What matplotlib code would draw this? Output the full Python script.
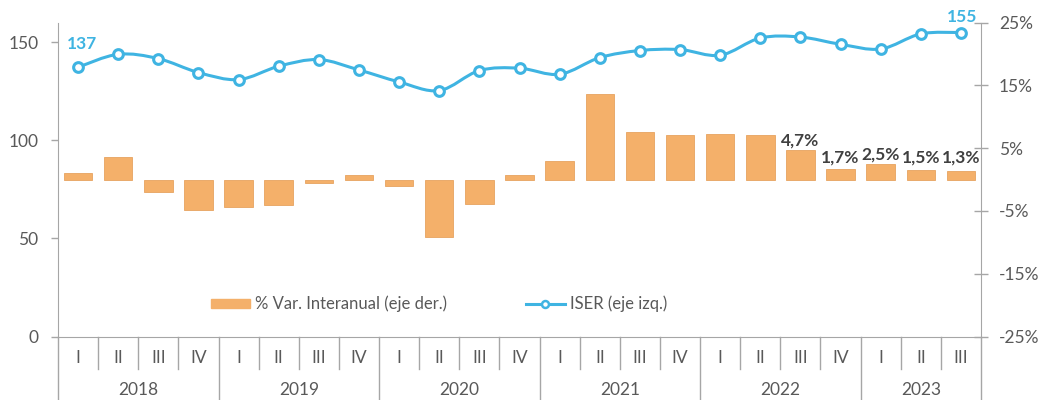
import numpy as np
import matplotlib.pyplot as plt
from matplotlib.path import Path
from matplotlib.patches import PathPatch, Patch
from matplotlib.lines import Line2D
import matplotlib.transforms as mtransforms

plt.rcParams['font.family'] = ['Lato', 'DejaVu Sans']

years = ['2018', '2019', '2020', '2021', '2022', '2023']
quarters = ['I', 'II', 'III', 'IV'] * 5 + ['I', 'II', 'III']
iser = [137.3, 143.9, 141.7, 134.6, 131.0, 137.8, 141.2, 135.9, 129.8, 125.4, 135.6, 136.8,
        133.7, 142.2, 145.8, 146.3, 143.4, 152.2, 152.7, 149.0, 146.6, 154.3, 155.0]
var_ia = [1.0, 3.6, -2.0, -4.9, -4.3, -4.1, -0.6, 0.75, -1.0, -9.1, -3.9, 0.75,
          3.0, 13.6, 7.6, 7.1, 7.3, 7.1, 4.7, 1.7, 2.5, 1.5, 1.3]
bar_labels = {18: '4,7%', 19: '1,7%', 20: '2,5%', 21: '1,5%', 22: '1,3%'}

blue = '#3fb4e2'
orange = '#f4b06a'
axis_gray = '#a6a6a6'
text_gray = '#595959'

fig = plt.figure(figsize=(10.46, 4.0), dpi=100)
ax = fig.add_axes([58 / 1046, 1 - 336.5 / 400, (981 - 58) / 1046, (336.5 - 22.7) / 400])
ax2 = ax.twinx()
ax.set_zorder(ax2.get_zorder() + 1)
ax.patch.set_visible(False)

x = np.arange(len(iser))

# bars on right axis
ax2.bar(x, var_ia, width=0.71, color=orange, edgecolor='#e6a360', linewidth=0.6)
ax2.set_ylim(-25, 25)
ax2.set_yticks(np.arange(-25, 26, 10))
ax2.set_yticklabels([f'{v}%' for v in range(-25, 26, 10)])
for i, lab in bar_labels.items():
    ax2.text(i, max(var_ia[i], 2.0) + 1.5, lab, ha='center', va='center',
             fontsize=12.5, fontweight='bold', color='#404040')

# smoothed line on left axis (catmull-rom as bezier)
pts = np.column_stack([x, iser])
verts = [pts[0]]
codes = [Path.MOVETO]
n = len(pts)
for i in range(n - 1):
    p0 = pts[max(i - 1, 0)]
    p1 = pts[i]
    p2 = pts[i + 1]
    p3 = pts[min(i + 2, n - 1)]
    c1 = p1 + (p2 - p0) / 6
    c2 = p2 - (p3 - p1) / 6
    verts += [c1, c2, p2]
    codes += [Path.CURVE4] * 3
ax.add_patch(PathPatch(Path(verts, codes), fill=False, edgecolor=blue, linewidth=2.2,
                       capstyle='round', joinstyle='round'))
ax.plot(x, iser, linestyle='none', marker='o', markersize=7, markerfacecolor='white',
        markeredgecolor=blue, markeredgewidth=2.2)
ax.annotate(f'{iser[0]:.0f}', (x[0], iser[0]), xytext=(3, 17), textcoords='offset points',
            ha='center', va='center', color=blue, fontsize=12.5, fontweight='bold')
ax.annotate(f'{iser[-1]:.0f}', (x[-1], iser[-1]), xytext=(1, 11), textcoords='offset points',
            ha='center', va='center', color=blue, fontsize=12.5, fontweight='bold')

ax.set_ylim(0, 160)
ax.set_yticks([0, 50, 100, 150])
ax.set_xlim(-0.5, len(iser) - 0.5)
ax.set_xticks(x)
ax.set_xticklabels([])
ax.tick_params(axis='x', length=0)
ax.tick_params(axis='y', direction='out', length=5, width=1, color=axis_gray,
               labelsize=12.5, labelcolor=text_gray, pad=9)
ax2.tick_params(axis='y', direction='inout', length=10, width=1, color=axis_gray,
                labelsize=12.5, labelcolor=text_gray, pad=8)

for a in (ax, ax2):
    a.spines['top'].set_visible(False)
    for s in ('left', 'right', 'bottom'):
        a.spines[s].set_color(axis_gray)
ax.spines['right'].set_visible(False)
ax2.spines['left'].set_visible(False)
ax2.spines['bottom'].set_visible(False)

# category axis: quarters, years and separators
trans = mtransforms.blended_transform_factory(ax.transData, ax.transAxes)
for i, q in enumerate(quarters):
    ax.text(i, -0.068, q, transform=trans, ha='center', va='center', fontsize=12.5, color=text_gray)
for k in range(len(iser) + 1):
    xb = k - 0.5
    bottom = -0.21 if (k % 4 == 0 or k == len(iser)) else -0.104
    ax.plot([xb, xb], [0, bottom], transform=trans, color=axis_gray, linewidth=1, clip_on=False)
for j, yr in enumerate(years):
    start = j * 4
    end = min(start + 4, len(iser))
    ax.text((start + end - 1) / 2, -0.17, yr, transform=trans, ha='center', va='center',
            fontsize=12.5, color=text_gray)

handles = [Patch(facecolor=orange, edgecolor=orange),
           Line2D([], [], color=blue, linewidth=2.2, marker='o', markersize=5,
                  markerfacecolor='white', markeredgecolor=blue, markeredgewidth=1.8)]
fig.legend(handles, ['% Var. Interanual (eje der.)', 'ISER (eje izq.)'], ncol=2,
           loc='center left', bbox_to_anchor=(196 / 1046, 1 - 304 / 400), frameon=False,
           fontsize=12, labelcolor=text_gray, handlelength=2.35, handleheight=0.5,
           handletextpad=0.3, columnspacing=4.7)

plt.savefig('out.png', dpi=100)
